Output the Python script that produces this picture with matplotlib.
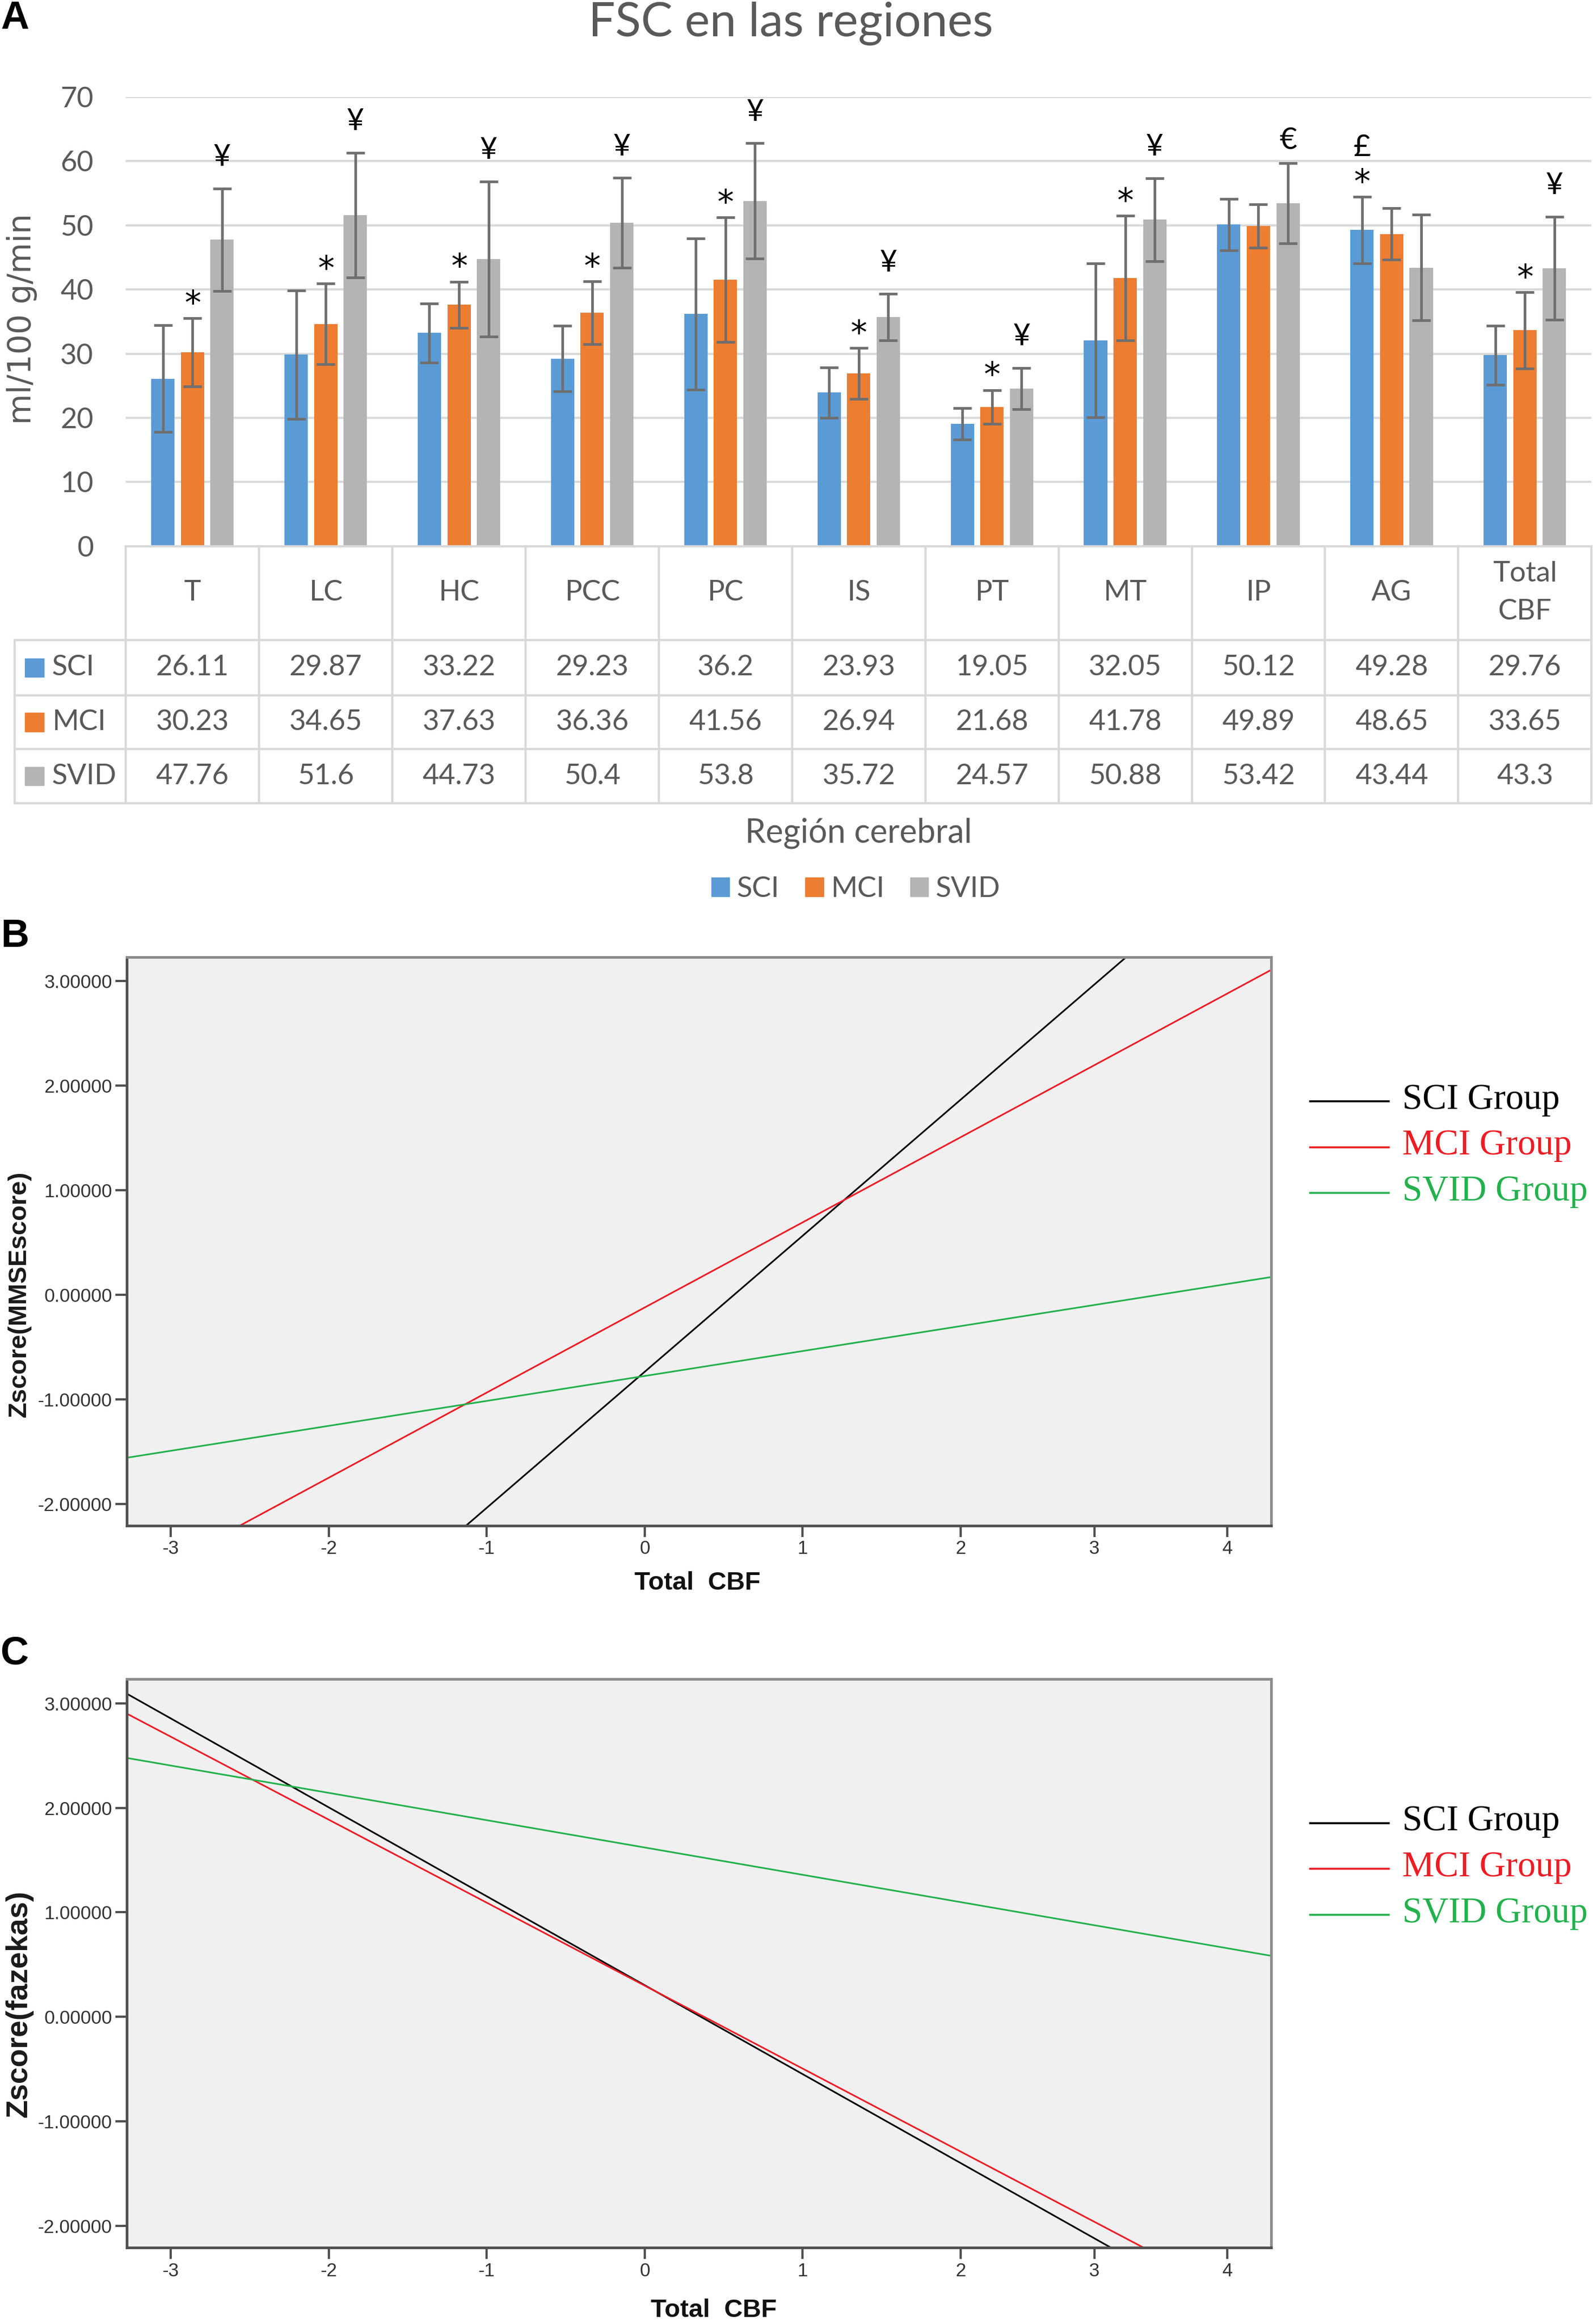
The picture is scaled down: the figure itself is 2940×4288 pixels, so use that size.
import numpy as np
import matplotlib
matplotlib.use("Agg")
import matplotlib.pyplot as plt
from matplotlib.patches import Patch, Rectangle
from matplotlib.lines import Line2D

plt.rcParams['font.family'] = ['Lato', 'DejaVu Sans']
plt.rcParams['axes.unicode_minus'] = False

# ---- panel A data ----
regions = ["T", "LC", "HC", "PCC", "PC", "IS", "PT", "MT", "IP", "AG", "Total\nCBF"]
groups = ["SCI", "MCI", "SVID"]
cbf_sci = [26.11, 29.87, 33.22, 29.23, 36.2, 23.93, 19.05, 32.05, 50.12, 49.28, 29.76]
cbf_mci = [30.23, 34.65, 37.63, 36.36, 41.56, 26.94, 21.68, 41.78, 49.89, 48.65, 33.65]
cbf_svid = [47.76, 51.6, 44.73, 50.4, 53.8, 35.72, 24.57, 50.88, 53.42, 43.44, 43.3]
sd_sci = [8.3, 10.0, 4.6, 5.1, 11.8, 3.9, 2.45, 12.0, 4.0, 5.2, 4.6]
sd_mci = [5.3, 6.3, 3.6, 4.9, 9.7, 3.95, 2.65, 9.7, 3.4, 4.0, 5.95]
sd_svid = [8.0, 9.7, 12.1, 7.0, 9.0, 3.6, 3.2, 6.5, 6.25, 8.2, 8.05]
marks_sci = ["", "", "", "", "", "", "", "", "", "*£", ""]
marks_mci = ["*", "*", "*", "*", "*", "*", "*", "*", "", "", "*"]
marks_svid = ["¥", "¥", "¥", "¥", "¥", "¥", "¥", "¥", "€", "", "¥"]

# ---- panels B and C data: fitted lines (intercept, slope) ----
line_groups = ["SCI Group", "MCI Group", "SVID Group"]
line_colors = ["#000000", "#ED1C24", "#22B14C"]
mmse_intercept = [-0.738, -0.123, -0.778]
mmse_slope = [1.301, 0.814, 0.2385]
faz_intercept = [0.302, 0.298, 1.620]
faz_slope = [-0.851, -0.794, -0.2614]
x_tick_pos = [-3, -2, -1, 0, 1, 2, 2.847, 3.689]
x_tick_lab = ["-3", "-2", "-1", "0", "1", "2", "3", "4"]
y_ticks = [-2, -1, 0, 1, 2, 3]

bar_colors = ["#5B9BD5", "#ED7D31", "#B4B4B4"]
txt_gray = "#595959"
line_gray = "#D9D9D9"

W, H = 1076.0, 1568.0


def fx(x):
    return x / W


def fy(y):
    return 1 - y / H


fig = plt.figure(figsize=(29.4, 42.88), dpi=100)

# ================= panel A =================
ax = fig.add_axes([fx(85), fy(368.5), fx(1075) - fx(85), (368.5 - 65.5) / H])
x = np.arange(len(regions))
offs = [-0.222, 0.0, 0.222]
bw = 0.175
series = [(cbf_sci, sd_sci, marks_sci), (cbf_mci, sd_mci, marks_mci), (cbf_svid, sd_svid, marks_svid)]
sym_off = {"*": 6, "¥": 30, "€": 19, "£": 24}
for k, (vals, sds, marks) in enumerate(series):
    ax.bar(x + offs[k], vals, bw, color=bar_colors[k], yerr=sds, zorder=2,
           error_kw=dict(ecolor="#6F6F6F", elinewidth=3.5, capsize=12, capthick=3.5, zorder=3))
    for i, m in enumerate(marks):
        top = vals[i] + sds[i]
        for j, ch in enumerate(m):
            fam = "DejaVu Sans" if ch == "*" else "Lato"
            ax.annotate(ch, (x[i] + offs[k], top), xytext=(0, sym_off[ch] + 30 * j),
                        textcoords="offset points", ha="center", va="baseline",
                        fontsize=44 if ch == "*" else 40, family=fam, color="black",
                        annotation_clip=False)
ax.set_xlim(-0.5, 10.5)
ax.set_ylim(0, 70)
ax.set_yticks(range(0, 71, 10))
ax.yaxis.grid(True, color=line_gray, lw=2.8)
ax.set_axisbelow(True)
for s in ax.spines.values():
    s.set_visible(False)
ax.tick_params(axis="x", length=0, labelbottom=False)
ax.tick_params(axis="y", length=0, pad=43, labelsize=38, labelcolor=txt_gray)

# table under the bars
axt = fig.add_axes([fx(10), fy(542), fx(1075) - fx(10), (542 - 368.5) / H])
x0 = -0.5 - 75 / 90
axt.set_xlim(x0, 10.5)
axt.set_ylim(542, 368.5)
axt.axis("off")
rows_y = [368.5, 432, 469, 505.5, 542]
kw = dict(color=line_gray, lw=3, clip_on=False, solid_capstyle="projecting")
axt.plot([-0.5, 10.5], [rows_y[0]] * 2, **kw)
for yy in rows_y[1:]:
    axt.plot([x0, 10.5], [yy, yy], **kw)
for i in range(len(regions) + 1):
    axt.plot([-0.5 + i] * 2, [rows_y[0], rows_y[-1]], **kw)
axt.plot([x0, x0], [rows_y[1], rows_y[-1]], **kw)
for i, r in enumerate(regions):
    axt.text(i, 400, r, ha="center", va="center", fontsize=38, color=txt_gray, linespacing=1.6)
for k, vals in enumerate([cbf_sci, cbf_mci, cbf_svid]):
    ym = (rows_y[k + 1] + rows_y[k + 2]) / 2
    for i, v in enumerate(vals):
        axt.text(i, ym, f"{v:g}", ha="center", va="center", fontsize=38, color=txt_gray)
    axt.add_patch(Rectangle((-0.5 + (17 - 85) / 90, ym - 6.25), 12.5 / 90, 12.5,
                            color=bar_colors[k], clip_on=False))
    axt.text(-0.5 + (35 - 85) / 90, ym, groups[k], ha="left", va="center",
             fontsize=38, color=txt_gray)

fig.text(fx(534), fy(24.5), "FSC en las regiones", ha="center", va="baseline",
         fontsize=63, color=txt_gray)
fig.text(fx(15), fy(215), "ml/100 g/min", rotation=90, ha="center", va="center",
         fontsize=42, color=txt_gray, family="DejaVu Sans")
fig.text(fx(580), fy(562), "Región cerebral", ha="center", va="center",
         fontsize=44, color=txt_gray)
fig.legend(handles=[Patch(color=c, label=g) for c, g in zip(bar_colors, groups)],
           loc="center", bbox_to_anchor=(fx(578), fy(600)), ncol=3, frameon=False,
           fontsize=38, handlelength=0.64, handleheight=0.64, handletextpad=0.25,
           columnspacing=0.9, labelcolor=txt_gray)


# ================= panels B and C =================
def spss_panel(top, bottom, intercepts, slopes, ylabel, ylab_y, ylab_size, xlab_x, xlab_y, leg_y):
    a = fig.add_axes([fx(85.5), fy(bottom), fx(858.5) - fx(85.5), (bottom - top) / H])
    a.set_facecolor("#F0F0F0")
    a.set_xlim(-3.28, 3.965)
    a.set_ylim(-2.21, 3.23)
    xs = np.array(a.get_xlim())
    for b0, b1, c in zip(intercepts, slopes, line_colors):
        a.plot(xs, b0 + b1 * xs, color=c, lw=2.2)
    a.set_xticks(x_tick_pos)
    a.set_xticklabels(x_tick_lab)
    a.set_yticks(y_ticks)
    a.set_yticklabels([f"{v:.5f}" for v in y_ticks])
    for side in ["left", "bottom"]:
        a.spines[side].set_color("#505050")
        a.spines[side].set_linewidth(3.5)
    for side in ["top", "right"]:
        a.spines[side].set_color("#8C8C8C")
        a.spines[side].set_linewidth(3.5)
    a.tick_params(direction="out", length=15, width=3, color="#505050",
                  labelsize=25, labelcolor="#333333", pad=4)
    for t in a.get_xticklabels() + a.get_yticklabels():
        t.set_fontfamily("Liberation Sans")
    fig.text(fx(13), fy(ylab_y), ylabel, rotation=90, ha="center", va="center",
             fontsize=ylab_size, weight="bold", family="Liberation Sans", color="#1A1A1A")
    fig.text(fx(xlab_x), fy(xlab_y), "Total  CBF", ha="center", va="center",
             fontsize=34, weight="bold", family="Liberation Sans", color="#111111")
    for k, (g, c) in enumerate(zip(line_groups, line_colors)):
        yy = leg_y + 31 * k
        fig.add_artist(Line2D([fx(885), fx(938)], [fy(yy)] * 2, color=c, lw=2.6,
                              transform=fig.transFigure))
        fig.text(fx(947), fy(yy + 5), g, ha="left", va="baseline", fontsize=48,
                 color=c, family="Liberation Serif")
    return a


spss_panel(645.6, 1029.4, mmse_intercept, mmse_slope, "Zscore(MMSEscore)", 873, 34, 471, 1068, 743)
spss_panel(1133, 1516.5, faz_intercept, faz_slope, "Zscore(fazekas)", 1352, 40, 482, 1559, 1230)

for lab, yy in [("A", 12.5), ("B", 632), ("C", 1116)]:
    fig.text(fx(0.5), fy(yy), lab, ha="left", va="center", fontsize=52,
             weight="bold", family="Liberation Sans", color="black")

fig.savefig("out.png", dpi=100)
